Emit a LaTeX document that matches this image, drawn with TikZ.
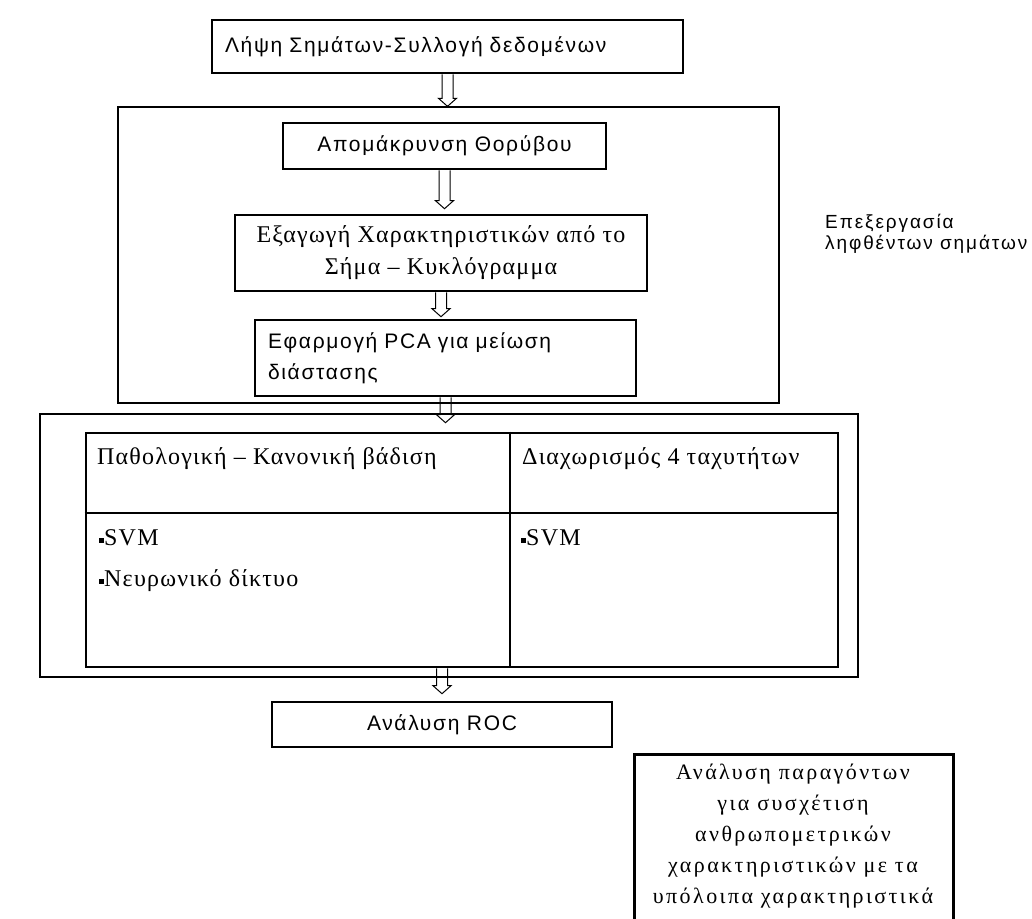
\documentclass[tikz,border=0pt]{standalone}
\usepackage{fontspec}
\setmainfont[LetterSpace=5]{Liberation Serif}
\newfontfamily\serifwide[LetterSpace=11]{Liberation Serif}
\newfontfamily\sansgr[LetterSpace=8]{Liberation Sans}
\newfontfamily\sanswide[LetterSpace=10]{Liberation Sans}
\usetikzlibrary{calc}
\begin{document}
\begin{tikzpicture}[x=1pt,y=-1pt,
  box/.style={draw, line width=2.6pt, inner sep=0pt, align=center},
  frame/.style={draw, line width=1.3pt, inner sep=0pt},
  sepline/.style={line width=1.3pt},
  serif/.style={font=\fontsize{24}{32}\selectfont},
  sans/.style={font=\sansgr\fontsize{21}{31}\selectfont},
  txt/.style={inner sep=0pt, anchor=west},
  harrow/.style={line width=1pt, to path={let \p1=(\tikztostart), \p2=(\tikztotarget) in
    (\x1-5.5pt,\y1) -- (\x1-5.5pt,\y2+#1+8pt) -- (\x1-9pt,\y2+#1+8pt) -- (\x1,\y2+#1)
    -- (\x1+9pt,\y2+#1+8pt) -- (\x1+5.5pt,\y2+#1+8pt) -- (\x1+5.5pt,\y1)}},
  harrow/.default=0pt]
\clip (0,0) rectangle (1032,918);
\fill[white] (0,0) rectangle (1032,918);
\newcommand{\bul}{\raisebox{3pt}{\rule{5pt}{5pt}}}

% top box
\node[box, sans, minimum height=53pt, text width=445pt, inner xsep=13pt, align=left] (b1) at (447.5,46.5) {Λήψη Σημάτων-Συλλογή δεδομένων};

% processing frame
\node[frame, minimum width=661pt, minimum height=296pt] (proc) at (448.5,255) {};
\node[box, sans, minimum width=323pt, minimum height=46pt] (noise) at (444.5,146) {Απομάκρυνση Θορύβου};
\node[box, serif, minimum width=412pt, minimum height=76pt] (feat) at (441,253) {Εξαγωγή Χαρακτηριστικών από το\\Σήμα – Κυκλόγραμμα};
\node[box, sans, minimum height=76pt, text width=355pt, inner xsep=13pt, align=left] (pca) at (445.5,358) {Εφαρμογή PCA για μείωση\\διάστασης};
\node[font=\sanswide\fontsize{19}{21}\selectfont, align=left, anchor=north west, inner sep=0pt] (proclabel) at (825,214) {Επεξεργασία\\ληφθέντων σημάτων};

% classification frame
\node[frame, minimum width=818pt, minimum height=263pt] (cls) at (449,545.5) {};
\node[box, minimum width=752pt, minimum height=234pt] (tbl) at (462,550) {};
\coordinate (colx) at (510,0);
\coordinate (rowy) at (0,513);
\draw[sepline] (colx |- tbl.north) -- (colx |- tbl.south);
\draw[sepline] (tbl.west |- rowy) -- (tbl.east |- rowy);
\node[txt, serif] (h1) at (97,459) {Παθολογική – Κανονική βάδιση};
\node[txt, serif] (h2) at (522,459) {Διαχωρισμός 4 ταχυτήτων};
\node[txt, serif] (l1) at (99,538) {\bul SVM};
\node[txt, serif] (l2) at (99,581) {\bul Νευρωνικό δίκτυο};
\node[txt, serif] (r1) at (521,538) {\bul SVM};

% ROC
\node[box, sans, minimum width=340pt, minimum height=45pt] (roc) at (442,724.5) {Ανάλυση ROC};

% factor box
\node[box, minimum width=319pt, minimum height=180pt, anchor=north west] (fact) at (633,753) {};
\node[font=\serifwide\fontsize{22}{31}\selectfont, align=center, anchor=north, inner sep=0pt] (facttext) at (793,764) {Ανάλυση παραγόντων\\για συσχέτιση\\ανθρωπομετρικών\\χαρακτηριστικών με τα\\υπόλοιπα χαρακτηριστικά};

% arrows
\draw[harrow] (b1.south) to (proc.north);
\draw[harrow=5pt] (noise.south) to (feat.north);
\draw[harrow=2pt] (feat.south) to (pca.north);
\draw[harrow=9pt] (pca.south) to (tbl.north);
\draw[harrow=7pt] (roc.north |- tbl.south) to (roc.north);
\end{tikzpicture}
\end{document}
